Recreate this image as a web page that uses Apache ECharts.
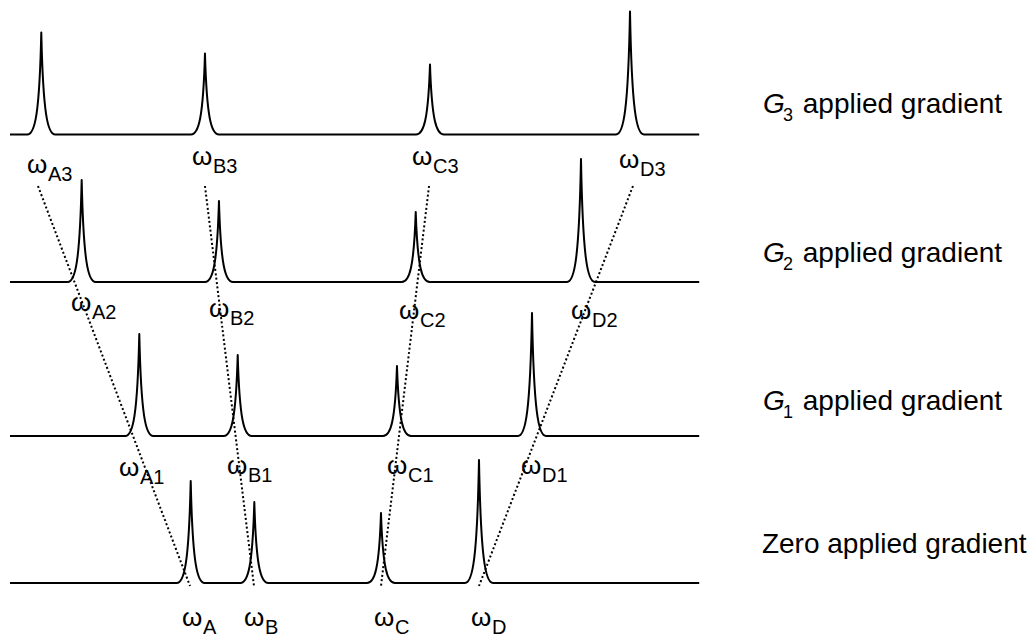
<!DOCTYPE html>
<html>
<head>
<meta charset="utf-8">
<script src="https://cdn.jsdelivr.net/npm/echarts@6/dist/echarts.min.js"></script>
<style>
  html, body { margin: 0; padding: 0; background: #fff; }
  #chart { width: 1030px; height: 637px; }
</style>
</head>
<body>
<div id="chart"></div>
<script>
// spectra: one row per applied gradient, baseline offset in intensity units
const levels = ['Zero', 'G1', 'G2', 'G3'];
const levelOffset = [0, 1.47, 3.01, 4.485];
const peakNames = ['A', 'B', 'C', 'D'];
const peakHeight = [1.02, 0.81, 0.70, 1.23];
// peak centres (frequency units) for each level
const centersZero = [26.22, 35.45, 53.83, 68.05];
const centersG1 = [18.76, 33.04, 56.15, 75.74];
const centersG2 = [10.40, 30.32, 58.87, 82.85];
const centersG3 = [4.54, 28.29, 60.94, 89.96];
const spectrumRange = [0, 100];

// dotted tracks joining the peak frequencies
const trackTopX = [4.06, 28.29, 60.80, 90.39];
const trackBottomX = [26.12, 35.40, 53.83, 68.05];
const trackY = [3.97, -0.03];

// omega labels
const omegaSub = ['A3', 'B3', 'C3', 'D3', 'A2', 'B2', 'C2', 'D2', 'A1', 'B1', 'C1', 'D1', 'A', 'B', 'C', 'D'];
const omegaX = [2.47, 26.41, 58.33, 88.36, 8.85, 28.87, 56.44, 81.40, 15.82, 31.49, 54.70, 74.14, 24.96, 33.95, 52.81, 66.89];
const omegaY = [4.10, 4.18, 4.18, 4.15, 2.72, 2.66, 2.64, 2.64, 1.07, 1.09, 1.09, 1.09, -0.43, -0.43, -0.43, -0.43];

// labels on the right
const gradMain = ['G', 'G', 'G', 'Zero applied gradient'];
const gradSub = ['3', '2', '1', ''];
const gradTail = [' applied gradient', ' applied gradient', ' applied gradient', ''];
const gradX = [109.26, 109.26, 109.26, 109.1];
const gradY = [4.70, 3.21, 1.73, 0.30];

const FONT = '"Liberation Sans", Arial, Helvetica, sans-serif';

function renderSpectrum(params, api) {
    let base = api.value(0);
    let start = api.coord([spectrumRange[0], base]);
    let end = api.coord([spectrumRange[1], base]);
    let y0 = start[1];
    let w = 14;
    let d = 'M' + start[0] + ' ' + y0;
    for (let i = 0; i < peakNames.length; i++) {
        let c = api.coord([api.value(i + 1), base + peakHeight[i]]);
        let cx = c[0], top = c[1], h = y0 - top;
        d += ' L' + (cx - w) + ' ' + y0;
        d += ' C' + (cx - 0.45 * w) + ' ' + y0 + ' ' + (cx - 0.13 * w) + ' ' + (y0 - 0.2 * h) + ' ' + cx + ' ' + top;
        d += ' C' + (cx + 0.13 * w) + ' ' + (y0 - 0.2 * h) + ' ' + (cx + 0.45 * w) + ' ' + y0 + ' ' + (cx + w) + ' ' + y0;
    }
    d += ' L' + end[0] + ' ' + y0;
    return {
        type: 'path',
        shape: { pathData: d },
        style: { fill: 'none', stroke: '#000', lineWidth: 2, lineJoin: 'round' }
    };
}

function renderOmega(params, api) {
    let p = api.coord([api.value(0), api.value(1)]);
    return {
        type: 'group',
        children: [
            {
                type: 'text', x: p[0], y: p[1] - 9,
                style: { text: 'ω', fontSize: 26, fontFamily: FONT, fill: '#000', align: 'left', verticalAlign: 'middle' }
            },
            {
                type: 'text', x: p[0] + 21, y: p[1] + 0.5,
                style: { text: omegaSub[params.dataIndex], fontSize: 20, fontFamily: FONT, fill: '#000', align: 'left', verticalAlign: 'middle' }
            }
        ]
    };
}

function renderGradient(params, api) {
    let i = params.dataIndex;
    let p = api.coord([api.value(0), api.value(1)]);
    let children = [];
    if (gradSub[i]) {
        children.push({
            type: 'text', x: p[0], y: p[1] - 9.8,
            style: { text: gradMain[i], fontSize: 28, fontStyle: 'italic', fontFamily: FONT, fill: '#000', align: 'left', verticalAlign: 'middle' }
        });
        children.push({
            type: 'text', x: p[0] + 20, y: p[1] + 2,
            style: { text: gradSub[i], fontSize: 18, fontFamily: FONT, fill: '#000', align: 'left', verticalAlign: 'middle' }
        });
        children.push({
            type: 'text', x: p[0] + 32, y: p[1] - 9.8,
            style: { text: gradTail[i], fontSize: 28, fontFamily: FONT, fill: '#000', align: 'left', verticalAlign: 'middle' }
        });
    } else {
        children.push({
            type: 'text', x: p[0], y: p[1] - 9.8,
            style: { text: gradMain[i], fontSize: 28, fontFamily: FONT, fill: '#000', align: 'left', verticalAlign: 'middle' }
        });
    }
    return { type: 'group', children: children };
}

function drawChart() {
    let my_chart = echarts.init(document.getElementById('chart'), null, { renderer: 'svg' });

    let allCenters = [centersZero, centersG1, centersG2, centersG3];
    let spectrum_data = levels.map(function (name, i) {
        return [levelOffset[i]].concat(allCenters[i]);
    });

    let track_data = peakNames.map(function (name, i) {
        return { name: name, coords: [[trackTopX[i], trackY[0]], [trackBottomX[i], trackY[1]]] };
    });

    let omega_data = omegaSub.map(function (s, i) {
        return [omegaX[i], omegaY[i]];
    });

    let grad_data = gradMain.map(function (s, i) {
        return [gradX[i], gradY[i]];
    });

    let option = {
        animation: false,
        backgroundColor: '#fff',
        grid: { left: 10, right: 0, top: 0, bottom: 0 },
        xAxis: { type: 'value', min: 0, max: 148, show: false },
        yAxis: { type: 'value', min: -0.54, max: 5.83, show: false },
        series: [
            {
                name: 'tracks',
                type: 'lines',
                coordinateSystem: 'cartesian2d',
                silent: true,
                lineStyle: { color: '#000', width: 2, type: [2, 2.4], opacity: 1, curveness: 0 },
                data: track_data
            },
            {
                name: 'spectra',
                type: 'custom',
                renderItem: renderSpectrum,
                data: spectrum_data
            },
            {
                name: 'omega',
                type: 'custom',
                renderItem: renderOmega,
                data: omega_data
            },
            {
                name: 'gradient',
                type: 'custom',
                renderItem: renderGradient,
                data: grad_data
            }
        ]
    };

    my_chart.setOption(option);
}

drawChart();
</script>
</body>
</html>
